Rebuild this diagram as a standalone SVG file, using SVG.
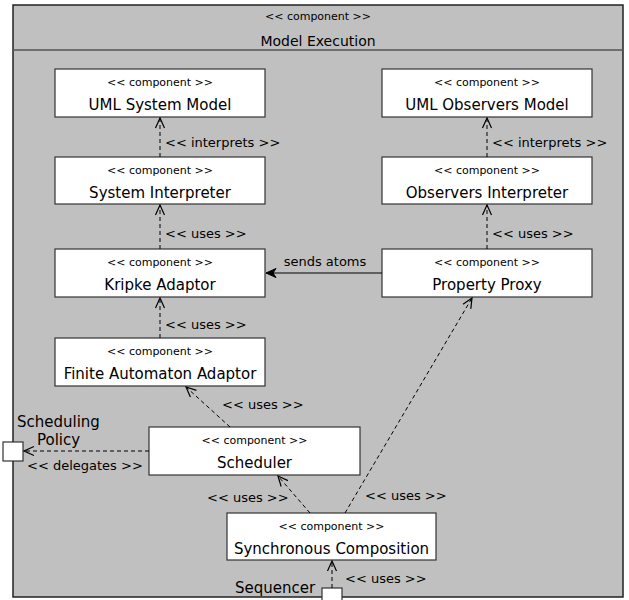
<svg xmlns="http://www.w3.org/2000/svg" width="629" height="600" viewBox="0 0 629 600">
<defs>
<style>
text{font-family:"DejaVu Sans","Liberation Sans",sans-serif;fill:#000}
.st{font-size:11px;text-anchor:middle}
.nm{font-size:15px;text-anchor:middle}
.lb{font-size:13px}
.box{fill:#fff;stroke:#333;stroke-width:1.2}
.dep{fill:none;stroke:#000;stroke-width:1;stroke-dasharray:4,3;marker-end:url(#open)}
</style>
<marker id="open" viewBox="-11 -6 12 12" refX="0" refY="0" markerWidth="12" markerHeight="12" markerUnits="userSpaceOnUse" orient="auto">
<path d="M-10,-4.5 L0,0 L-10,4.5" fill="none" stroke="#000" stroke-width="1.2"/>
</marker>
<marker id="filled" viewBox="-11 -6 12 12" refX="0" refY="0" markerWidth="12" markerHeight="12" markerUnits="userSpaceOnUse" orient="auto">
<path d="M-10,-4.5 L0,0 L-10,4.5 L-7,0 Z" fill="#000" stroke="#000" stroke-width="1"/>
</marker>
</defs>
<rect width="629" height="600" fill="#fff"/>
<g id="model-execution">
<rect x="13" y="5" width="610" height="592" fill="#c0c0c0" stroke="#222" stroke-width="1.5"/>
<line x1="13" y1="50" x2="623" y2="50" stroke="#555" stroke-width="1.5"/>
<text class="st" x="318" y="20">&lt;&lt; component &gt;&gt;</text>
<text x="318" y="46" style="font-size:14px;text-anchor:middle">Model Execution</text>
</g>
<g id="uml-system-model">
<rect class="box" x="55" y="69" width="210" height="48"/>
<text class="st" x="160" y="86">&lt;&lt; component &gt;&gt;</text>
<text class="nm" x="160" y="110">UML System Model</text>
</g>
<g id="system-interpreter">
<rect class="box" x="55" y="157" width="210" height="47"/>
<text class="st" x="160" y="174">&lt;&lt; component &gt;&gt;</text>
<text class="nm" x="160" y="198">System Interpreter</text>
</g>
<g id="uml-observers-model">
<rect class="box" x="382" y="69" width="210" height="48"/>
<text class="st" x="487" y="86">&lt;&lt; component &gt;&gt;</text>
<text class="nm" x="487" y="110">UML Observers Model</text>
</g>
<g id="observers-interpreter">
<rect class="box" x="382" y="157" width="210" height="47"/>
<text class="st" x="487" y="174">&lt;&lt; component &gt;&gt;</text>
<text class="nm" x="487" y="198">Observers Interpreter</text>
</g>
<g id="kripke-adaptor">
<rect class="box" x="55" y="249" width="210" height="48"/>
<text class="st" x="160" y="266">&lt;&lt; component &gt;&gt;</text>
<text class="nm" x="160" y="290">Kripke Adaptor</text>
</g>
<g id="property-proxy">
<rect class="box" x="382" y="249" width="210" height="48"/>
<text class="st" x="487" y="266">&lt;&lt; component &gt;&gt;</text>
<text class="nm" x="487" y="290">Property Proxy</text>
</g>
<g id="finite-automaton-adaptor">
<rect class="box" x="55" y="338" width="210" height="48"/>
<text class="st" x="160" y="355">&lt;&lt; component &gt;&gt;</text>
<text class="nm" x="160" y="379">Finite Automaton Adaptor</text>
</g>
<g id="scheduler">
<rect class="box" x="149" y="427" width="211" height="48"/>
<text class="st" x="254.5" y="444">&lt;&lt; component &gt;&gt;</text>
<text class="nm" x="254.5" y="468">Scheduler</text>
</g>
<g id="synchronous-composition">
<rect class="box" x="227" y="513" width="209" height="47"/>
<text class="st" x="331.5" y="530">&lt;&lt; component &gt;&gt;</text>
<text class="nm" x="331.5" y="554">Synchronous Composition</text>
</g>
<g id="port-scheduling-policy">
<rect class="box" x="3" y="442" width="20" height="19"/>
<text x="17" y="427" style="font-size:15px">Scheduling</text>
<text x="37" y="445" style="font-size:15px">Policy</text>
</g>
<g id="port-sequencer">
<rect class="box" x="322" y="588" width="20" height="20"/>
<text x="235" y="593" style="font-size:15px">Sequencer</text>
</g>
<g id="connectors">
<line class="dep" x1="160" y1="157" x2="160" y2="118"/>
<text class="lb" x="165" y="147">&lt;&lt; interprets &gt;&gt;</text>
<line class="dep" x1="160" y1="249" x2="160" y2="205"/>
<text class="lb" x="165" y="238">&lt;&lt; uses &gt;&gt;</text>
<line class="dep" x1="487" y1="157" x2="487" y2="118"/>
<text class="lb" x="492" y="147">&lt;&lt; interprets &gt;&gt;</text>
<line class="dep" x1="487" y1="249" x2="487" y2="205"/>
<text class="lb" x="492" y="238">&lt;&lt; uses &gt;&gt;</text>
<line x1="382" y1="273" x2="266" y2="273" stroke="#000" stroke-width="1.2" marker-end="url(#filled)"/>
<text class="lb" x="325" y="266" text-anchor="middle">sends atoms</text>
<line class="dep" x1="160" y1="338" x2="160" y2="298"/>
<text class="lb" x="165" y="329">&lt;&lt; uses &gt;&gt;</text>
<line class="dep" x1="230" y1="427" x2="186" y2="387"/>
<text class="lb" x="222" y="409">&lt;&lt; uses &gt;&gt;</text>
<line class="dep" x1="149" y1="451" x2="24" y2="451"/>
<text class="lb" x="27" y="470">&lt;&lt; delegates &gt;&gt;</text>
<line class="dep" x1="310" y1="513" x2="278" y2="476"/>
<text class="lb" x="207" y="502">&lt;&lt; uses &gt;&gt;</text>
<line class="dep" x1="345" y1="513" x2="472" y2="298"/>
<text class="lb" x="365" y="500">&lt;&lt; uses &gt;&gt;</text>
<line class="dep" x1="332" y1="588" x2="332" y2="561"/>
<text class="lb" x="345" y="583">&lt;&lt; uses &gt;&gt;</text>
</g>
</svg>
